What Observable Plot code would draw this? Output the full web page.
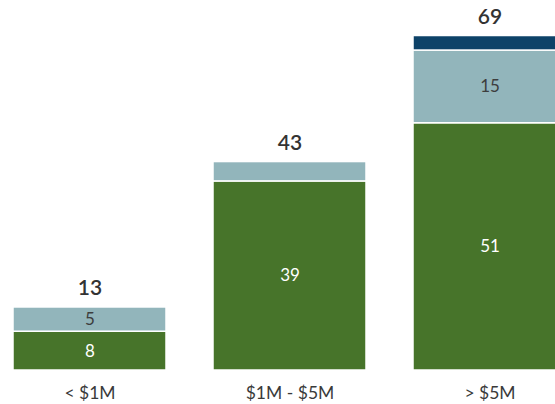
<!DOCTYPE html>
<html>
<head>
<meta charset="utf-8">
<script src="https://cdn.jsdelivr.net/npm/d3@7"></script>
<script src="https://cdn.jsdelivr.net/npm/@observablehq/plot@0.6"></script>
<style>
  html, body { margin: 0; padding: 0; background: white; overflow: hidden; }
  #chart { width: 555px; height: 404px; overflow: hidden; }
</style>
</head>
<body>
<div id="chart"></div>
<script>
const categories = ["< $1M", "$1M - $5M", "> $5M"];
const seriesNames = ["green", "light", "dark"];
const greenValues = [8, 39, 51];
const lightValues = [5, 4, 15];
const darkValues = [0, 0, 3];
const seriesColors = ["#47742a", "#92b5bb", "#0d4268"];

const seriesValues = [greenValues, lightValues, darkValues];
const data = [];
categories.forEach((c, i) => {
  seriesNames.forEach((s, j) => {
    data.push({category: c, series: s, value: seriesValues[j][i]});
  });
});
const totals = categories.map((c, i) => ({category: c, total: greenValues[i] + lightValues[i] + darkValues[i]}));

const chart = Plot.plot({
  width: 555,
  height: 404,
  marginTop: 0,
  marginBottom: 34,
  marginLeft: 0,
  marginRight: 0,
  style: {fontFamily: "Lato, 'Open Sans', sans-serif", background: "white", overflow: "hidden"},
  x: {domain: categories, range: [-11.75, 589.75], paddingInner: 0.235, paddingOuter: 0.1175, axis: null},
  y: {domain: [0, 69], range: [370, 35.5], axis: null},
  color: {domain: seriesNames, range: seriesColors},
  marks: [
    Plot.barY(data, {x: "category", y: "value", z: "series", fill: "series", stroke: "white", strokeWidth: 1.5}),
    Plot.text(data, Plot.stackY({
      x: "category", y: "value", z: "series",
      text: d => (d.value >= 5 ? String(d.value) : ""),
      fill: d => (d.series === "green" ? "white" : "#3d3d3d"),
      fontSize: 17
    })),
    Plot.text(totals, {x: "category", y: "total", text: d => String(d.total), dy: -12, lineAnchor: "bottom", fontSize: 21, fontWeight: 600, fill: "#333"}),
    Plot.axisX({domain: categories, tickSize: 0, tickPadding: 16, fontSize: 17.5, fill: "#3a3a3a", label: null})
  ]
});
document.getElementById("chart").appendChild(chart);
</script>
</body>
</html>
